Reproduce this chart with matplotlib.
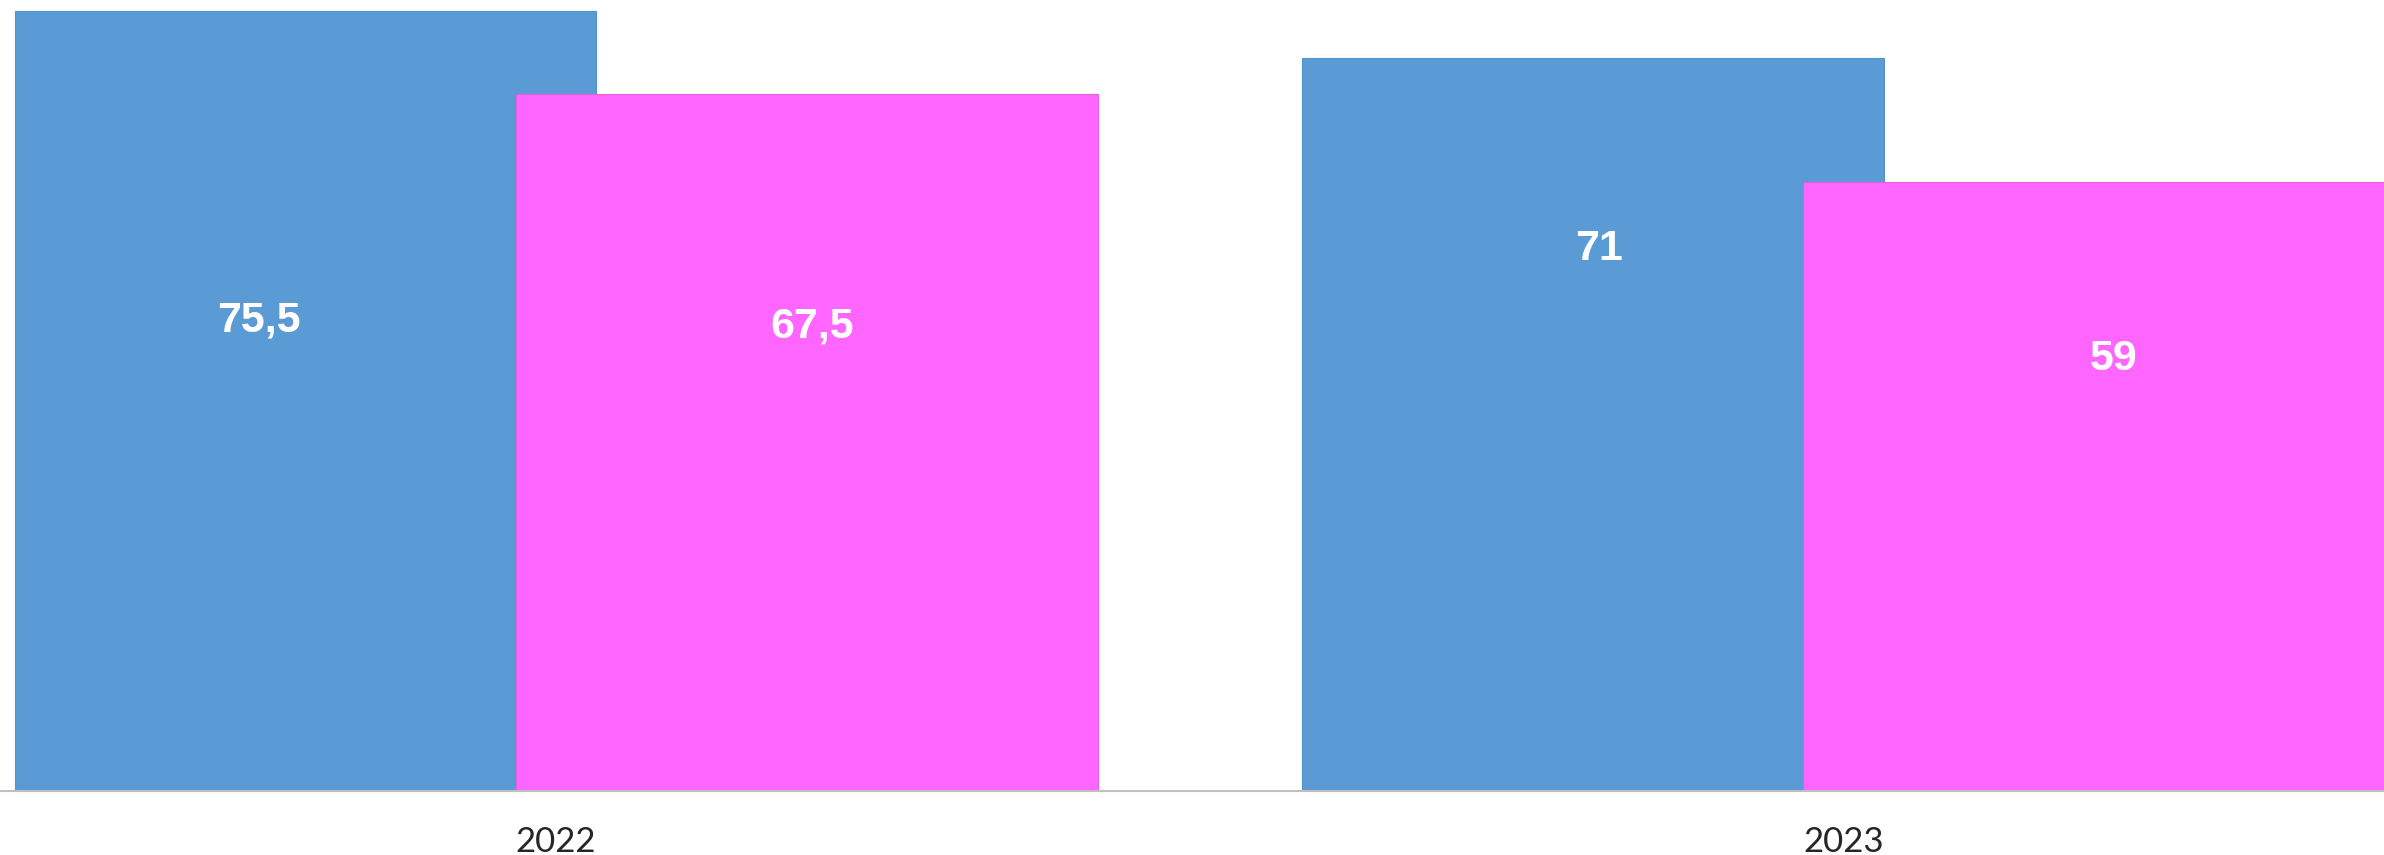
import matplotlib.pyplot as plt
import numpy as np

years = ['2022', '2023']
series_a = [75.5, 71]
series_b = [67.5, 59]
labels_a = ['75,5', '71']
labels_b = ['67,5', '59']

# where the value labels sit (data units)
label_y_a = [45.6, 52.5]
label_y_b = [45.0, 41.8]
label_dx_a = [-0.036, 0.005]
label_dx_b = [0.004, 0.015]

blue = '#5B9BD5'
pink = '#FF66FF'

fig = plt.figure(figsize=(23.84, 8.55), dpi=100)
ax = fig.add_axes([0, 0.0749, 1, 0.9251])

x = np.arange(len(years))
w = 0.452
off = 0.1947

ax.bar(x - off, series_a, w, color=blue, edgecolor='#5592CB', linewidth=0.8, zorder=2)
ax.bar(x + off, series_b, w, color=pink, edgecolor='#E060E0', linewidth=0.8, zorder=3)

for i in range(len(years)):
    ax.text(x[i] - off + label_dx_a[i], label_y_a[i], labels_a[i], color='white',
            fontsize=31, fontweight='bold', family='Liberation Sans',
            ha='center', va='center', zorder=5)
    ax.text(x[i] + off + label_dx_b[i], label_y_b[i], labels_b[i], color='white',
            fontsize=31, fontweight='bold', family='Liberation Sans',
            ha='center', va='center', zorder=5)

ax.set_xlim(-0.432, 1.420)
ax.set_ylim(0, 76.6)
ax.set_xticks(x)
ax.set_xticklabels(years, fontsize=25, family='Lato', color='#262626')
ax.tick_params(axis='x', length=0, pad=25)
ax.set_yticks([])
for s in ['top', 'right', 'left']:
    ax.spines[s].set_visible(False)
ax.spines['bottom'].set_color('#BFBFBF')
ax.spines['bottom'].set_linewidth(1.5)
ax.spines['bottom'].set_zorder(4)

fig.savefig('out.png', dpi=100)
